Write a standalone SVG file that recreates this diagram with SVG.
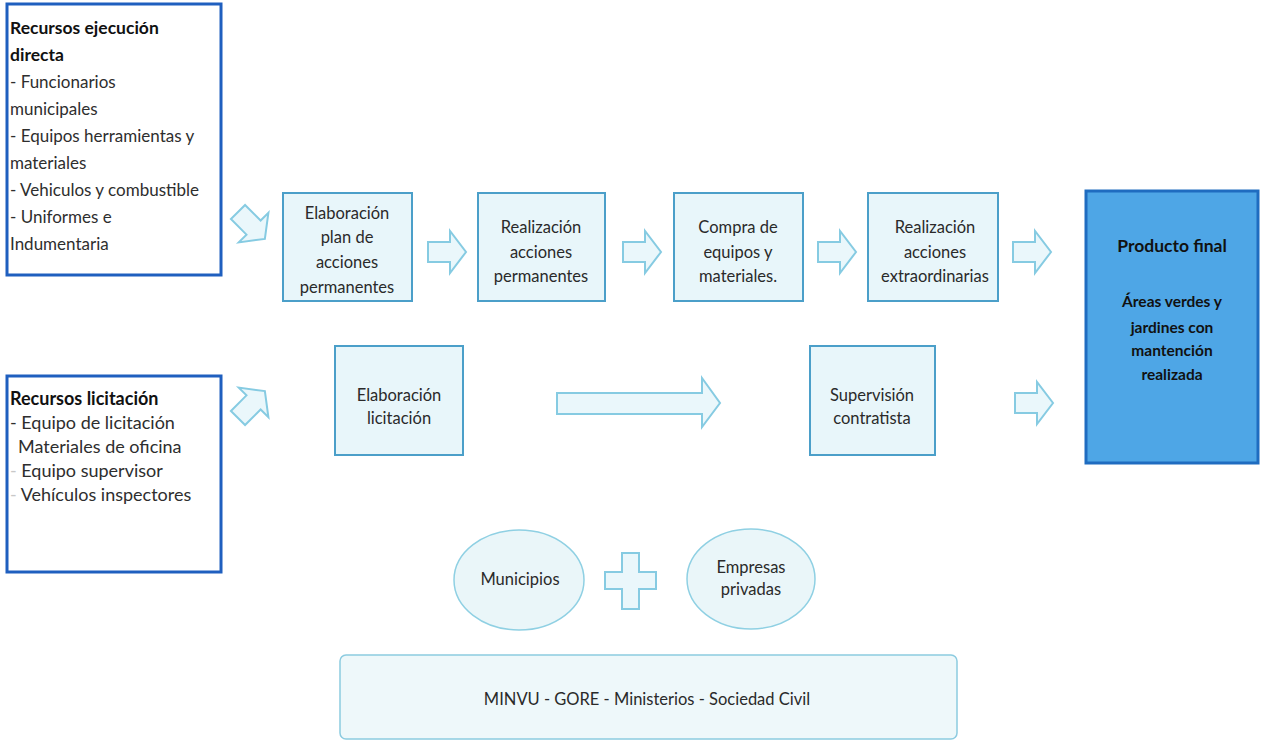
<svg xmlns="http://www.w3.org/2000/svg" width="1264" height="742" viewBox="0 0 1264 742">
  <style>
    text { font-family: Lato, "Liberation Sans", sans-serif; }
    .res { fill: #ffffff; stroke: #1f5fbf; stroke-width: 3; }
    .hd { font-size: 17.5px; font-weight: bold; fill: #111; }
    .it { font-size: 17px; fill: #2e2e2e; }
    .hd2 { font-size: 18px; font-weight: bold; fill: #111; }
    .it2 { font-size: 18px; fill: #2e2e2e; }
    .step { fill: #e8f6fa; stroke: #4b9fc9; stroke-width: 2; }
    .st { font-size: 16.5px; fill: #2a2a2a; text-anchor: middle; }
    .arrow { fill: #eaf7fb; stroke: #86cbe2; stroke-width: 2; stroke-linejoin: miter; }
    .final { fill: #4ea6e6; stroke: #1f6cc0; stroke-width: 3; }
    .fh { font-size: 17.5px; font-weight: bold; fill: #111; text-anchor: middle; }
    .ft { font-size: 15.5px; font-weight: bold; fill: #111; text-anchor: middle; }
    .actor { fill: #eaf6f9; stroke: #8fd0e3; stroke-width: 1.5; }
    .base { fill: #eef8fa; stroke: #8ccbe0; stroke-width: 1.5; }
  </style>
  <defs>
    <path id="blk" d="M0,-10 H22 V-21 L38,0 L22,21 V10 H0 Z"/>
  </defs>
  <rect width="1264" height="742" fill="#ffffff"/>

  <!-- resource boxes -->
  <g id="recursos-directa">
    <rect class="res" x="7" y="4" width="214" height="271"/>
    <text class="hd" x="10" y="34">Recursos ejecución</text>
    <text class="hd" x="10" y="61">directa</text>
    <text class="it" x="10" y="88">- Funcionarios</text>
    <text class="it" x="10" y="115">municipales</text>
    <text class="it" x="10" y="142">- Equipos herramientas y</text>
    <text class="it" x="10" y="169">materiales</text>
    <text class="it" x="10" y="196">- Vehiculos y combustible</text>
    <text class="it" x="10" y="223">- Uniformes e</text>
    <text class="it" x="10" y="250">Indumentaria</text>
  </g>
  <g id="recursos-licitacion">
    <rect class="res" x="7" y="376" width="214" height="196"/>
    <text class="hd2" x="10" y="405">Recursos licitación</text>
    <text class="it2" x="10" y="429">- Equipo de licitación</text>
    <text class="it2" x="18" y="453">Materiales de oficina</text>
    <text class="it2" x="10" y="477"><tspan fill="#c8c8c8">-</tspan> Equipo supervisor</text>
    <text class="it2" x="10" y="501"><tspan fill="#c8c8c8">-</tspan> Vehículos inspectores</text>
  </g>

  <!-- process steps -->
  <g id="plan">
    <rect class="step" x="283" y="193" width="129" height="108"/>
    <text class="st" x="347" y="219">Elaboración</text>
    <text class="st" x="347" y="243">plan de</text>
    <text class="st" x="347" y="268">acciones</text>
    <text class="st" x="347" y="293">permanentes</text>
  </g>
  <g id="permanentes">
    <rect class="step" x="478" y="193" width="127" height="108"/>
    <text class="st" x="541" y="233">Realización</text>
    <text class="st" x="541" y="258">acciones</text>
    <text class="st" x="541" y="282">permanentes</text>
  </g>
  <g id="compra">
    <rect class="step" x="674" y="193" width="129" height="108"/>
    <text class="st" x="738" y="233">Compra de</text>
    <text class="st" x="738" y="258">equipos y</text>
    <text class="st" x="738" y="282">materiales.</text>
  </g>
  <g id="extraordinarias">
    <rect class="step" x="868" y="193" width="130" height="108"/>
    <text class="st" x="935" y="233">Realización</text>
    <text class="st" x="935" y="258">acciones</text>
    <text class="st" x="935" y="282">extraordinarias</text>
  </g>
  <g id="licitacion">
    <rect class="step" x="335" y="346" width="128" height="109"/>
    <text class="st" x="399" y="401">Elaboración</text>
    <text class="st" x="399" y="424">licitación</text>
  </g>
  <g id="supervision">
    <rect class="step" x="810" y="346" width="125" height="109"/>
    <text class="st" x="872" y="401">Supervisión</text>
    <text class="st" x="872" y="424">contratista</text>
  </g>

  <!-- outcome -->
  <g id="producto-final">
    <rect class="final" x="1086" y="191" width="172" height="272"/>
    <text class="fh" x="1172" y="252">Producto final</text>
    <text class="ft" x="1172" y="307">Áreas verdes y</text>
    <text class="ft" x="1172" y="333">jardines con</text>
    <text class="ft" x="1172" y="356">mantención</text>
    <text class="ft" x="1172" y="380">realizada</text>
  </g>

  <!-- participants -->
  <g id="municipios">
    <ellipse class="actor" cx="519" cy="580" rx="65" ry="50"/>
    <text class="st" x="520" y="585" font-size="12">Municipios</text>
  </g>
  <g id="empresas">
    <ellipse class="actor" cx="751" cy="579" rx="64" ry="50"/>
    <text class="st" x="751" y="573">Empresas</text>
    <text class="st" x="751" y="595">privadas</text>
  </g>
  <g id="instituciones">
    <rect class="base" x="340" y="655" width="617" height="84" rx="6"/>
    <text class="st" x="647" y="705" font-size="13.5">MINVU - GORE - Ministerios - Sociedad Civil</text>
  </g>

  <!-- connectors -->
  <g id="connectors">
    <use href="#blk" class="arrow" transform="translate(238,212) rotate(45)"/>
    <use href="#blk" class="arrow" transform="translate(238,418) rotate(-45)"/>
    <use href="#blk" class="arrow" transform="translate(428,252)"/>
    <use href="#blk" class="arrow" transform="translate(623,252)"/>
    <use href="#blk" class="arrow" transform="translate(818,252)"/>
    <use href="#blk" class="arrow" transform="translate(1013,252)"/>
    <use href="#blk" class="arrow" transform="translate(1015,403)"/>
    <path class="arrow" d="M557,393 H702 V378 L720,403 L702,427 V414 H557 Z"/>
    <path class="arrow" d="M622,553 H639 V572 H656 V589 H639 V609 H622 V589 H605 V572 H622 Z"/>
  </g>
</svg>
